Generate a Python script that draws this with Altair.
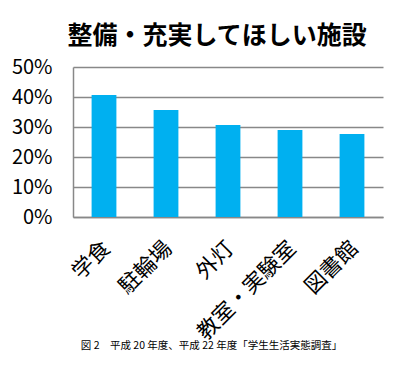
import altair as alt
import pandas as pd

categories = ["学食", "駐輪場", "外灯", "教室・実験室", "図書館"]
values = [0.407, 0.357, 0.307, 0.290, 0.277]
y_ticks = [0, 0.1, 0.2, 0.3, 0.4, 0.5]

df = pd.DataFrame({"施設": categories, "割合": values})
FONT = "Noto Sans CJK JP"

chart = alt.Chart(df).mark_bar(color="#00B0F0").encode(
    x=alt.X("施設:N", sort=categories,
            scale=alt.Scale(paddingInner=0.6, paddingOuter=0.3),
            axis=alt.Axis(title="図 2　平成 20 年度、平成 22 年度「学生生活実態調査」",
                          titleFontSize=10.5, titleFont=FONT, titleFontWeight="normal",
                          titleX=138, titleY=128, titleAlign="center", titleBaseline="middle",
                          labelAngle=-45, labelAlign="right", labelBaseline="middle",
                          labelFontSize=21.5, labelFont=FONT, labelColor="black",
                          labelPadding=28, labelOffset=3, ticks=False, tickSize=0,
                          domainColor="#888888", domainWidth=1.5)),
    y=alt.Y("割合:Q", scale=alt.Scale(domain=[0, 0.5]),
            axis=alt.Axis(title=None, values=y_ticks, format=".0%",
                          labelFontSize=20, labelFont=FONT, labelColor="black",
                          labelPadding=21, ticks=False, tickSize=0,
                          gridColor="#888888", gridWidth=1.5,
                          domainColor="#888888", domainWidth=1.5)),
).properties(
    width=310, height=150,
    title=alt.TitleParams("整備・充実してほしい施設", fontSize=25, font=FONT,
                          fontWeight="bold", color="black", anchor="middle",
                          dx=-11, offset=8),
    autosize="none",
    padding={"left": 65, "top": 59, "right": 19, "bottom": 143},
).configure_view(stroke=None)

chart.save("out.html", embed_options={"renderer": "svg", "actions": False})
